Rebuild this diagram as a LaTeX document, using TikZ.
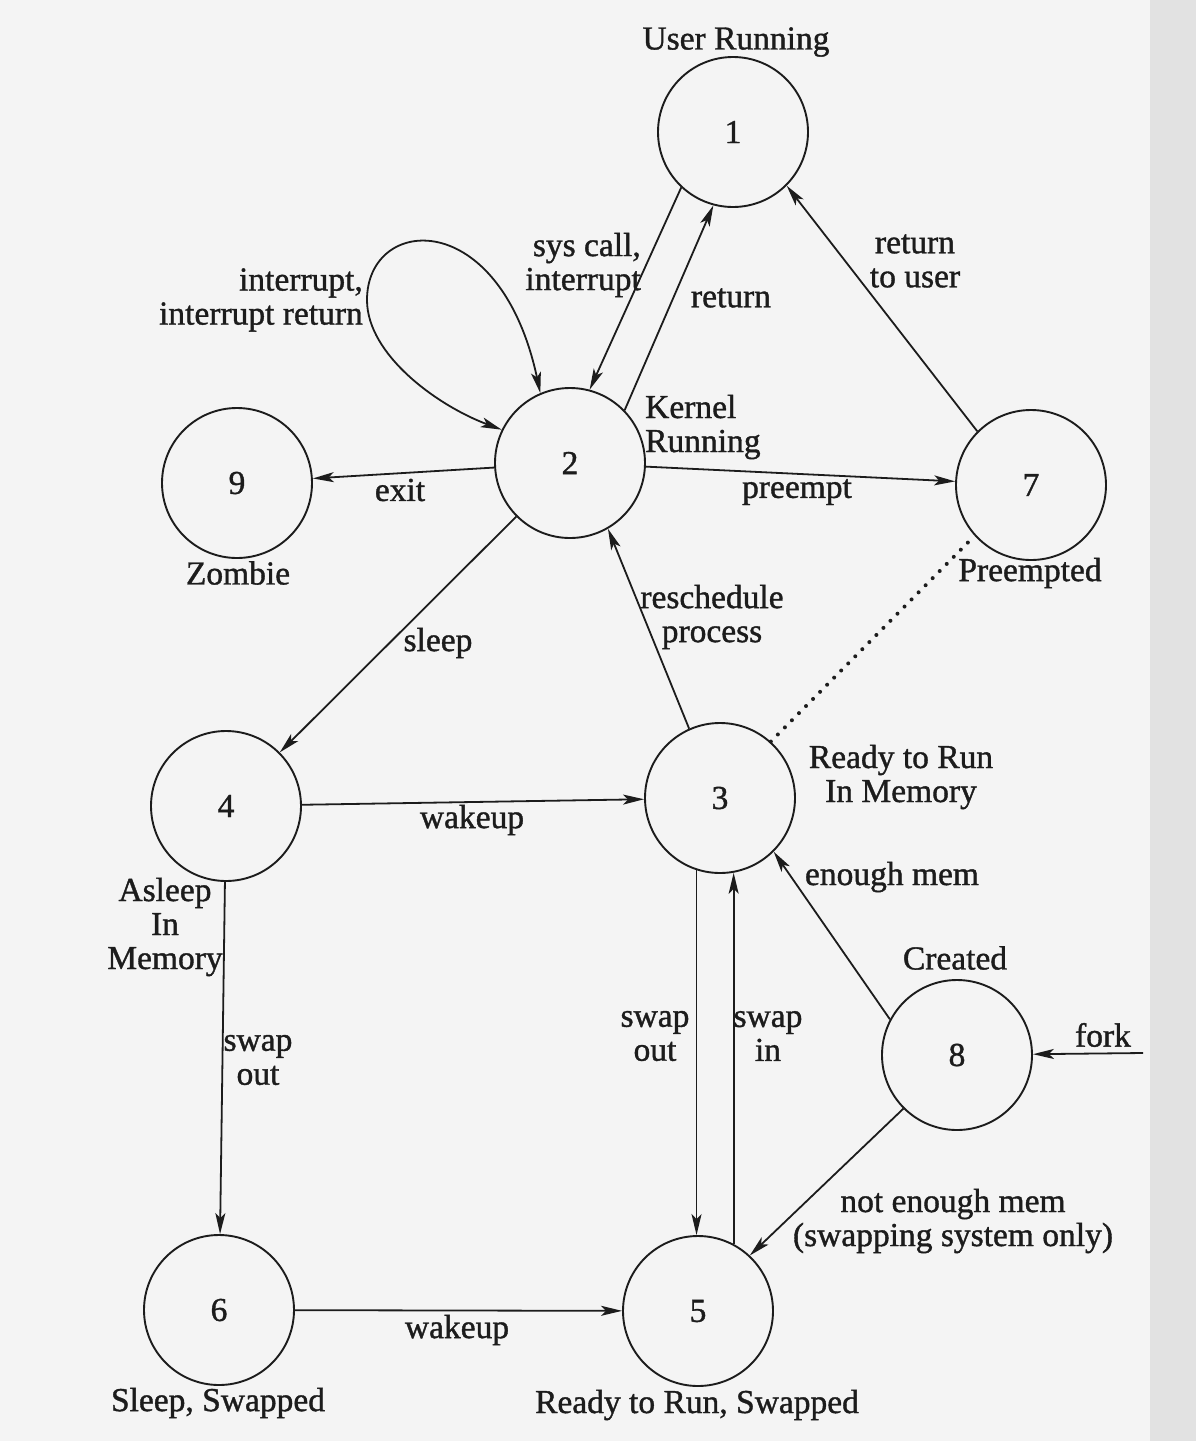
\documentclass[tikz,border=0pt]{standalone}
\usepackage{fontspec}
\setmainfont{Liberation Serif}[FakeBold=1.1]
\usetikzlibrary{arrows.meta}
\definecolor{paper}{RGB}{244,244,244}
\definecolor{scanedge}{RGB}{226,226,226}
\definecolor{ink}{RGB}{28,28,28}
\newcommand\statefont{\fontsize{33.5}{34}\selectfont}
\begin{document}
\begin{tikzpicture}[x=1pt,y=-1pt,
  >={Stealth[length=21pt,width=10pt,inset=5pt]},
  state/.style={circle,draw=ink,line width=1.9pt,minimum size=150pt,inner sep=0pt,text=ink,font=\statefont},
  lbl/.style={text=ink,font=\statefont,inner sep=0pt},
  conn/.style={draw=ink,line width=1.8pt,->},
  loopconn/.style={draw=ink,line width=1.8pt,<->},
  dotline/.style={draw=ink,line width=4pt,line cap=round,dash pattern=on 0pt off 10pt}
]
% background (paper)
\fill[paper] (0,0) rectangle (1196,1441);
\fill[scanedge] (1150,0) rectangle (1196,1441);
\useasboundingbox (0,0) rectangle (1196,1441);

% states
\node[state] (n1) at (733,132) {1};
\node[state] (n2) at (570,463) {2};
\node[state] (n9) at (237,483) {9};
\node[state] (n7) at (1031,485) {7};
\node[state] (n4) at (226,806) {4};
\node[state] (n3) at (720,798) {3};
\node[state] (n8) at (957,1055) {8};
\node[state] (n6) at (219,1310) {6};
\node[state] (n5) at (698,1311) {5};

% state names
\node[lbl] (tUser) at (736,42) {User Running};
\node[lbl,align=left,anchor=west] (tKernel) at (645,427) {Kernel\\Running};
\node[lbl] (tZombie) at (238,573) {Zombie};
\node[lbl] (tPre) at (1030,573) {Preempted};
\node[lbl,align=center] (tAsleep) at (165,927) {Asleep\\In\\Memory};
\node[lbl,align=center] (tReady) at (901,777) {Ready to Run\\In Memory};
\node[lbl] (tCreated) at (955,958) {Created};
\node[lbl] (tSleepSw) at (218,1403) {Sleep, Swapped};
\node[lbl] (tReadySw) at (697,1405) {Ready to Run, Swapped};

% connector labels
\node[lbl,align=right,anchor=east] (eSys) at (641,265) {sys call,\\interrupt};
\node[lbl] (eRet) at (731,298) {return};
\node[lbl,align=center] (eRetUser) at (915,261) {return\\to user};
\node[lbl,align=right,anchor=east] (eIntr) at (363,300) {interrupt,\\interrupt return};
\node[lbl] (eExit) at (400,490) {exit};
\node[lbl] (ePre) at (797,492) {preempt};
\node[lbl] (eSleep) at (438,643) {sleep};
\node[lbl,align=center] (eResched) at (712,617) {reschedule\\process};
\node[lbl] (eWake1) at (472,820) {wakeup};
\node[lbl] (eEnough) at (892,877) {enough mem};
\node[lbl,align=center] (eSwOut3) at (655,1036) {swap\\out};
\node[lbl,align=center] (eSwIn) at (768,1036) {swap\\in};
\node[lbl,align=center] (eSwOut4) at (258,1060) {swap\\out};
\node[lbl] (eWake2) at (457,1330) {wakeup};
\node[lbl,align=center] (eNot) at (953,1221) {not enough mem\\(swapping system only)};
\node[lbl] (eFork) at (1103,1035) {fork};

% connectors
\draw[conn] (n1.227) -- (n2.75);
\draw[conn] (n2.44) -- (n1.255);
\draw[conn] (n7.135) -- (n1.315);
\draw[loopconn] (n2.154) .. controls (438,406) and (367,355) .. (367,300)
                          .. controls (367,215) and (500,205) .. (n2.113);
\draw[conn] (n2) -- (n9);
\draw[conn] (n2) -- (n7);
\draw[conn] (n2) -- (n4);
\draw[conn] (n3.114) -- (n2.300);
\draw[dotline] (n3.48) -- (n7.222);
\draw[conn] (n4) -- (n3);
\draw[conn] (n4) -- (n6);
\draw[conn] (n3.252) -- (n3.252 |- n5.north);
\draw[conn] (n5.62) -- (n5.62 |- n3.280);
\draw[conn] (n8.152) -- (n3.315);
\draw[conn] (n8.225) -- (n5.47);
\coordinate (forkin) at (1143,1053);
\draw[conn] (forkin) -- (n8);
\draw[conn] (n6) -- (n5);
\end{tikzpicture}
\end{document}
